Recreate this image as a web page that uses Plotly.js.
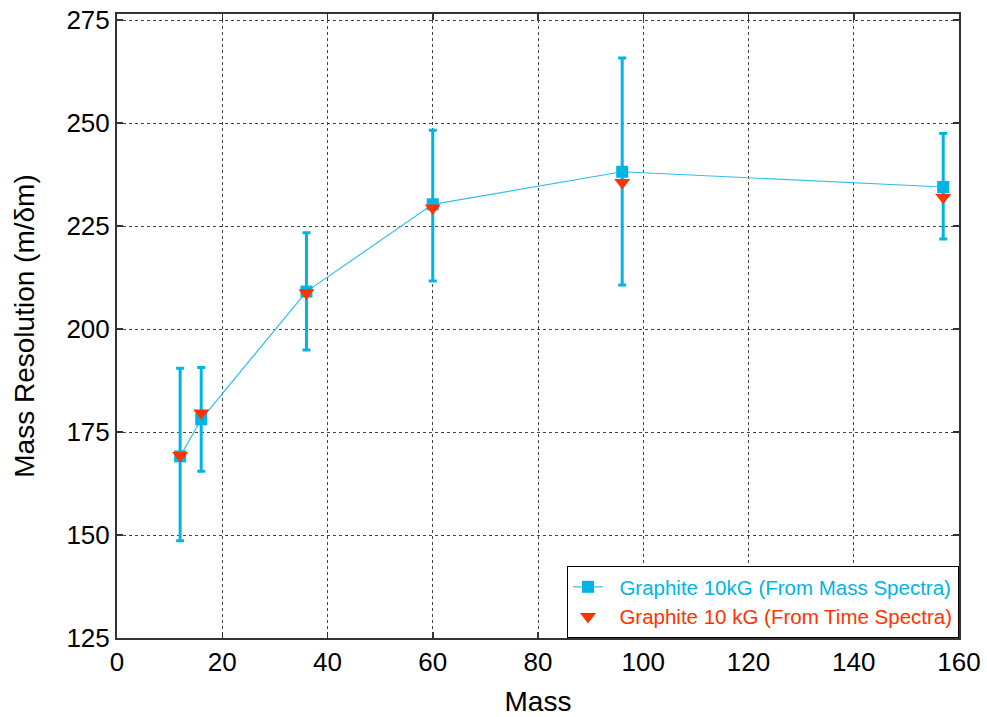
<!DOCTYPE html>
<html>
<head>
<meta charset="utf-8">
<script src="https://cdn.plot.ly/plotly-3.0.1.min.js"></script>
<style>html,body{margin:0;padding:0;background:#fff;}#chart{width:987px;height:717px;}</style>
</head>
<body>
<div id="chart"></div>
<script>
// Data
var massX = [12, 16, 36, 60, 96, 157];
var resMassSpectra = [169.1, 178.1, 209.1, 230.3, 238.2, 234.5];
var errPlus = [21.4, 12.6, 14.3, 18.0, 27.6, 13.0];
var errMinus = [20.5, 12.6, 14.2, 18.6, 27.5, 12.6];
var resTimeSpectra = [169.3, 179.6, 208.8, 229.4, 235.6, 232.0];
var xTicks = [0, 20, 40, 60, 80, 100, 120, 140, 160];
var yTicks = [125, 150, 175, 200, 225, 250, 275];

var cyan = '#00b4e6';
var red = '#ff3300';

var traces = [
  {
    x: massX, y: resMassSpectra, type: 'scatter', mode: 'lines+markers',
    name: '<span style="color:' + cyan + '">\u00a0\u00a0Graphite 10kG (From Mass Spectra)</span>',
    line: {color: '#33c0ea', width: 1.2},
    marker: {symbol: 'square', size: 12, color: cyan},
    error_y: {type: 'data', symmetric: false, array: errPlus, arrayminus: errMinus,
              color: cyan, thickness: 3, width: 4}
  },
  {
    x: massX, y: resTimeSpectra, type: 'scatter', mode: 'markers',
    name: '<span style="color:' + red + '">\u00a0\u00a0Graphite 10 kG (From Time Spectra)</span>',
    marker: {symbol: 'triangle-down', size: 14, color: red}
  }
];

var layout = {
  width: 987, height: 717,
  margin: {l: 117, r: 27.5, t: 14, b: 79},
  paper_bgcolor: '#fff', plot_bgcolor: '#fff',
  font: {family: 'Liberation Sans, Arial, sans-serif', color: '#000'},
  showlegend: true,
  legend: {
    x: 1, y: 0, xanchor: 'right', yanchor: 'bottom',
    bgcolor: '#fff', bordercolor: '#000', borderwidth: 1,
    font: {size: 20.5, family: 'Liberation Sans, Arial, sans-serif'},
    tracegroupgap: 0
  },
  xaxis: {
    range: [0, 160], tickvals: xTicks, ticktext: xTicks.map(String),
    showgrid: true, gridcolor: '#444', griddash: 'dot', gridwidth: 1,
    zeroline: false, showline: true, linecolor: '#333', linewidth: 2, mirror: 'ticks',
    ticks: 'inside', ticklen: 6, tickcolor: '#333', tickwidth: 1.5,
    tickfont: {size: 26},
    title: {text: 'Mass', font: {size: 28}, standoff: 18}
  },
  yaxis: {
    range: [125, 276.5], tickvals: yTicks, ticktext: yTicks.map(String),
    showgrid: true, gridcolor: '#444', griddash: 'dot', gridwidth: 1,
    zeroline: false, showline: true, linecolor: '#333', linewidth: 2, mirror: 'ticks',
    ticks: 'inside', ticklen: 6, tickcolor: '#333', tickwidth: 1.5,
    tickfont: {size: 26},
    title: {text: 'Mass Resolution (m/\u03b4m)', font: {size: 28}, standoff: 24}
  }
};

Plotly.newPlot('chart', traces, layout, {displayModeBar: false, staticPlot: true});
</script>
</body>
</html>
